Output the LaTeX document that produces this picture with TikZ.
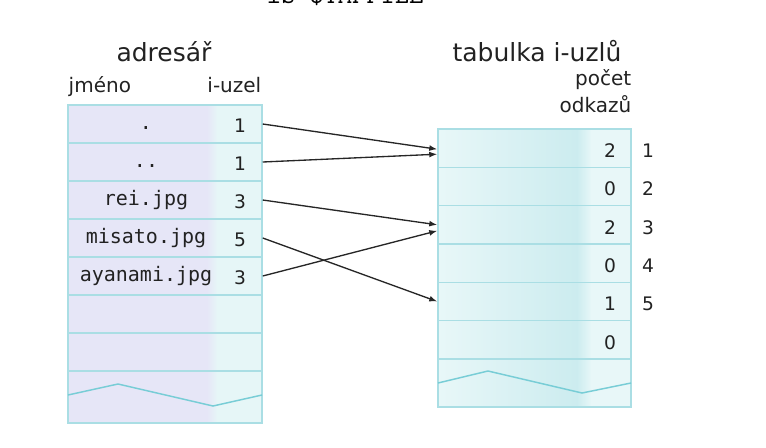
\documentclass[tikz,border=0pt]{standalone}
\usepackage{fontspec}
\setmainfont{DejaVu Sans}
\newfontfamily\monof{DejaVu Sans Mono}
\usetikzlibrary{arrows.meta}
\definecolor{lav}{RGB}{230,230,247}
\definecolor{cyl}{RGB}{230,246,247}
\definecolor{rlight}{RGB}{232,247,248}
\definecolor{rdark}{RGB}{204,236,239}
\definecolor{tabline}{RGB}{170,222,228}
\definecolor{zigline}{RGB}{120,205,214}
\definecolor{txt}{RGB}{34,34,34}

\begin{document}
\begin{tikzpicture}[x=0.75pt,y=-0.75pt,line width=1.1pt,>={Latex[length=6pt,width=4.4pt]},
  hdr/.style={text=txt,font=\fontsize{18.75}{22}\selectfont,inner sep=0pt},
  sub/.style={text=txt,font=\fontsize{15}{18}\selectfont,inner sep=0pt},
  fname/.style={text=txt,font=\monof\fontsize{15}{18}\selectfont,inner sep=0pt,anchor=base},
  num/.style={text=txt,font=\fontsize{14}{17}\selectfont,inner sep=0pt,anchor=base},
  lrow/.style={draw=tabline,minimum width=145.5pt,minimum height=28.5pt,inner sep=0pt},
  rrow/.style={draw=tabline,minimum width=144.75pt,minimum height=28.75pt,inner sep=0pt},
  link/.style={->,line width=1pt,black!85}]
  \useasboundingbox (0,0) rectangle (766,447);
  % prikaz nahore, oriznuty okrajem
  \node[font=\ttfamily\fontsize{20.7}{24}\selectfont,anchor=base east,inner sep=0pt] (cmd) at (424,3.8) {ls \$TMPFILE};
  % adresar
  \fill[lav] (68,105) rectangle (207.5,423);
  \shade[left color=lav,right color=cyl] (207,105) rectangle (217.5,423);
  \fill[cyl] (217,105) rectangle (262,423);
  \node[lrow] (l1) at (165,124){};
  \node[lrow] (l2) at (165,162){};
  \node[lrow] (l3) at (165,200){};
  \node[lrow] (l4) at (165,238){};
  \node[lrow] (l5) at (165,276){};
  \node[lrow] (l6) at (165,314){};
  \node[lrow] (l7) at (165,352){};
  \draw[tabline] (68,105) rectangle (262,423);
  \draw[zigline] (68,395)--(118,384)--(213,406)--(262,395);
  \node[hdr,anchor=base] (adr) at (164,61){adresář};
  \node[sub,anchor=base west] (jm) at (68,92){jméno};
  \node[sub,anchor=base east] (iu) at (262,92){i-uzel};
  \node[fname] (f1) at (146,129.5){.};
  \node[fname] (f2) at (146,167.5){..};
  \node[fname] (f3) at (146,205.5){rei.jpg};
  \node[fname] (f4) at (146,243.5){misato.jpg};
  \node[fname] (f5) at (146,281.5){ayanami.jpg};
  \node[num] (i1) at (240,132){1};
  \node[num] (i2) at (240,170){1};
  \node[num] (i3) at (240,208){3};
  \node[num] (i4) at (240,246){5};
  \node[num] (i5) at (240,284){3};
  % tabulka i-uzlu
  \shade[left color=rlight,right color=rdark] (438,129) rectangle (577.5,407);
  \shade[left color=rdark,right color=rlight] (577,129) rectangle (591.5,407);
  \fill[rlight] (591,129) rectangle (631,407);
  \node[rrow] (r1) at (534.5,148.2){};
  \node[rrow] (r2) at (534.5,186.5){};
  \node[rrow] (r3) at (534.5,224.8){};
  \node[rrow] (r4) at (534.5,263.2){};
  \node[rrow] (r5) at (534.5,301.5){};
  \node[rrow] (r6) at (534.5,339.8){};
  \draw[tabline] (438,129) rectangle (631,407);
  \draw[zigline] (438,383)--(488,371)--(582,393)--(631,383);
  \node[hdr,anchor=base] (tab) at (537,61){tabulka i-uzlů};
  \node[sub,anchor=base east] (poc) at (632,85){počet};
  \node[sub,anchor=base east] (odk) at (632,112){odkazů};
  \node[num] (c1) at (610,157){2};
  \node[num] (c2) at (610,195.5){0};
  \node[num] (c3) at (610,234){2};
  \node[num] (c4) at (610,272.5){0};
  \node[num] (c5) at (610,310.5){1};
  \node[num] (c6) at (610,349){0};
  \node[num] (k1) at (648,157){1};
  \node[num] (k2) at (648,195.5){2};
  \node[num] (k3) at (648,234){3};
  \node[num] (k4) at (648,272.5){4};
  \node[num] (k5) at (648,310.5){5};
  % odkazy
  \draw[link] (l1.east)--([yshift=-0.75pt]r1.west);
  \draw[link] (l2.east)--([yshift=-4.5pt]r1.west);
  \draw[link] (l3.east)--(r3.west);
  \draw[link] (l4.east)--(r5.west);
  \draw[link] (l5.east)--([yshift=-4.5pt]r3.west);
\end{tikzpicture}
\end{document}
